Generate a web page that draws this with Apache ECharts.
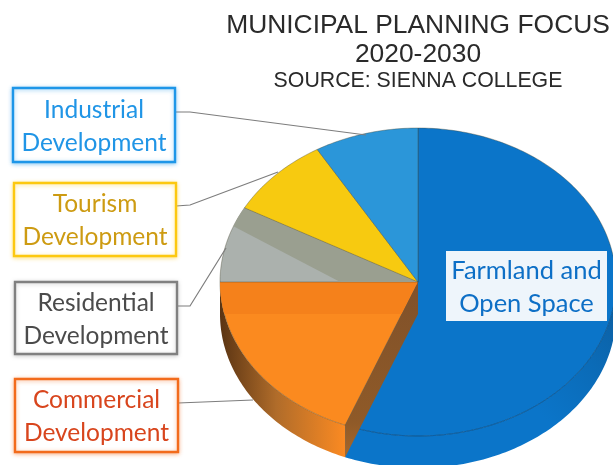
<!doctype html>
<html>

<head>
  <meta charset="utf-8">
  <title>Municipal Planning Focus</title>
  <script src="https://cdn.jsdelivr.net/npm/echarts@6/dist/echarts.min.js"></script>
  <style>
    html,
    body {
      width: 100%;
      height: 100%;
      background-color: #fff;
      padding: 0;
      margin: 0;
    }

    #main {
      width: 613px;
      height: 465px;
    }
  </style>
</head>

<body>
  <div id="main"></div>
</body>

<script type="text/javascript">
  // data, clockwise from 12 o'clock (share of the pie)
  var categories = ['Farmland and\nOpen Space', 'Commercial\nDevelopment', 'Residential\nDevelopment', 'Tourism\nDevelopment', 'Industrial\nDevelopment'];
  var shares = [56, 19, 8, 8.5, 8.5];
  var titleLines = ['MUNICIPAL PLANNING FOCUS', '2020-2030', 'SOURCE: SIENNA COLLEGE'];

  // look
  var sliceColors = ['#0b75c9', '#fb8a1f', '#abb1ad', '#f7ca10', '#2b96d9'];
  var textColors = ['#0d6fc6', '#d8451d', '#4b4b4b', '#cd9b12', '#2095e6'];
  var borderColors = ['#eef5fb', '#f26b1c', '#808080', '#fcc810', '#1e96e8'];
  var shadowColors = ['#eef5fb', 'rgba(242,107,28,0.45)', 'rgba(128,128,128,0.35)', 'rgba(252,200,16,0.45)', 'rgba(30,150,232,0.45)'];
  var labelSizes = [25.5, 24.5, 24.5, 24.5, 24.5];
  var boxes = [[446, 251, 161, 70], [15, 379, 163, 73], [15, 282, 162, 72], [14, 183, 162, 73], [13, 88, 162, 74]];
  var leaders = [
    null,
    [[178, 403], [253, 400]],
    [[177, 306], [190, 306], [226, 248]],
    [[176, 206], [190, 205], [278, 172]],
    [[175, 112], [190, 112], [366, 135]]
  ];

  // pie geometry
  var cx = 418, cy = 282, rx = 198, ry = 154, depth = 32;
  var total = shares.reduce(function (a, b) { return a + b; }, 0);

  function pt(t, dy) {
    var r = t * Math.PI / 180;
    return [cx + rx * Math.sin(r), cy - ry * Math.cos(r) + (dy || 0)];
  }

  function arc(a, b, dy) {
    var out = [], n = Math.max(2, Math.ceil(Math.abs(b - a)));
    for (var i = 0; i <= n; i++) out.push(pt(a + (b - a) * i / n, dy));
    return out;
  }

  // keep the part of a polygon where a*x + b*y <= c
  function clip(points, a, b, c) {
    var out = [];
    points.forEach(function (p, i) {
      var q = points[(i + 1) % points.length];
      var dp = a * p[0] + b * p[1] - c, dq = a * q[0] + b * q[1] - c;
      if (dp <= 0) out.push(p);
      if (dp * dq < 0) {
        var k = dp / (dp - dq);
        out.push([p[0] + (q[0] - p[0]) * k, p[1] + (q[1] - p[1]) * k]);
      }
    });
    return out;
  }

  function poly(points, fill, stroke, lineWidth) {
    return {
      type: 'polygon',
      shape: { points: points },
      style: { fill: fill, stroke: stroke || null, lineWidth: lineWidth || 0 }
    };
  }

  function grad(x, y, x2, y2, stops) {
    return {
      type: 'linear', x: x, y: y, x2: x2, y2: y2,
      colorStops: stops.map(function (s) { return { offset: s[0], color: s[1] }; })
    };
  }

  function renderSlice(params, api) {
    var i = params.dataIndex;
    var start = 0;
    for (var k = 0; k < i; k++) start += shares[k];
    start = start / total * 360;
    var end = start + api.value(1) / total * 360;
    var top = [[cx, cy]].concat(arc(start, end));
    var kids = [];

    // outer wall, front half of the pie only
    var a = Math.max(start, 90), b = Math.min(end, 270);
    if (a < b) {
      var wall = arc(a, b).concat(arc(b, a, depth));
      var wallFill = i === 0
        ? grad(1, 0, 0.6, 0.5, [[0, '#0d5d9e'], [0.5, '#0b6bb7'], [1, '#0b75c9']])
        : grad(0, 0, 1, 0, [[0, '#5a3413'], [0.45, '#b06c2a'], [1, '#fb8a22']]);
      kids.push(poly(wall, wallFill));
    }

    kids.push(poly(top, sliceColors[i], 'rgba(70,70,50,0.55)', 0.7));

    // shaded parts of the top faces
    if (i === 1) {
      kids.push(poly(clip(top, 0, 1, cy + depth), '#f5811b'));
    }
    if (i === 2) {
      kids.push(poly(clip(top, -0.522, 1, 104.4), '#9a9f90'));
    }

    // cut wall along the start edge, stands on the farmland face
    if (start > 90 && start < 270) {
      var cut = [[cx, cy], pt(start), pt(start, depth), [cx, cy + depth]];
      kids.push(poly(cut, grad(0, 0, 0, 1, [[0, '#80512a'], [0.8, '#8f5a28'], [1, '#a8682a']])));
    }

    // rim of the farmland face
    if (i === 0) {
      kids.push({
        type: 'polyline',
        shape: { points: arc(90, end) },
        style: { fill: null, stroke: '#0a5fa6', lineWidth: 1 }
      });
    }
    return { type: 'group', children: kids };
  }

  var graphics = [];
  categories.forEach(function (name, i) {
    var box = boxes[i];
    if (leaders[i]) {
      graphics.push({
        type: 'polyline',
        z: 100,
        shape: { points: leaders[i] },
        style: { fill: null, stroke: '#7d7d7d', lineWidth: 1.2 }
      });
    }
    graphics.push({
      type: 'rect',
      z: 100,
      shape: { x: box[0], y: box[1], width: box[2], height: box[3] },
      style: {
        fill: i === 0 ? '#eef5fb' : '#fff',
        stroke: i === 0 ? null : borderColors[i],
        lineWidth: i === 0 ? 0 : 2.4,
        shadowBlur: i === 0 ? 0 : 4,
        shadowColor: shadowColors[i],
        shadowOffsetY: i === 0 ? 0 : 1
      }
    });
    graphics.push({
      type: 'text',
      z: 101,
      x: box[0] + box[2] / 2,
      y: box[1] + box[3] / 2 + 1.5,
      style: {
        text: name,
        fill: textColors[i],
        font: labelSizes[i] + 'px Lato',
        lineHeight: 33,
        align: 'center',
        verticalAlign: 'middle'
      }
    });
  });

  var option = {
    animation: false,
    backgroundColor: '#fff',
    title: [
      { text: titleLines[0], left: 413, top: 8, textAlign: 'center', textStyle: { color: '#2a2a2a', fontFamily: 'Liberation Sans', fontWeight: 'normal', fontSize: 26.4 } },
      { text: titleLines[1], left: 413, top: 37, textAlign: 'center', textStyle: { color: '#2a2a2a', fontFamily: 'Liberation Sans', fontWeight: 'normal', fontSize: 26.4 } },
      { text: titleLines[2], left: 413, top: 66, textAlign: 'center', textStyle: { color: '#2a2a2a', fontFamily: 'Liberation Sans', fontWeight: 'normal', fontSize: 21.3 } }
    ],
    graphic: graphics,
    series: [{
      type: 'custom',
      coordinateSystem: 'none',
      silent: true,
      clip: false,
      renderItem: renderSlice,
      data: categories.map(function (name, i) { return [name, shares[i]]; })
    }]
  };

  var myChart = echarts.init(document.getElementById('main'));
  myChart.setOption(option);
</script>

</html>
